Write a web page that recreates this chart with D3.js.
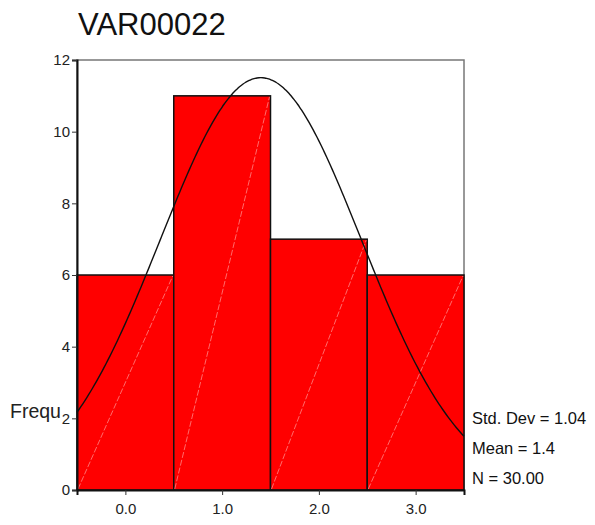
<!DOCTYPE html>
<html><head><meta charset="utf-8">
<script src="https://cdn.jsdelivr.net/npm/d3@7"></script>
<style>body{margin:0;background:#fff}svg{display:block}text{font-family:"Liberation Sans",Arial,sans-serif}</style>
</head><body>
<script>
const binCenters = [0, 1, 2, 3];
const frequencies = [6, 11, 7, 6];
const xTickLabels = ["0.0", "1.0", "2.0", "3.0"];
const yTicks = [0, 2, 4, 6, 8, 10, 12];
const stdDev = 1.04, mean = 1.4, nTotal = 30;
const statLines = ["Std. Dev = 1.04", "Mean = 1.4", "N = 30.00"];

const W = 595, H = 525;
const L = 77, R = 464, T = 60, B = 490;
const svg = d3.select("body").append("svg").attr("width", W).attr("height", H);
const x = d3.scaleLinear().domain([-0.5, 3.5]).range([L, R]);
const y = d3.scaleLinear().domain([0, 12]).range([B, T]);

svg.append("text").attr("x", 78).attr("y", 35).attr("font-size", 31).attr("fill", "#111").text("VAR00022");
svg.append("text").attr("x", 10).attr("y", 418).attr("font-size", 19.5).attr("fill", "#222").text("Frequ");

// frame
svg.append("rect").attr("x", L).attr("y", T).attr("width", R - L).attr("height", B - T)
  .attr("fill", "none").attr("stroke", "#777").attr("stroke-width", 1.5);

// bars
const bars = svg.append("g");
binCenters.forEach((c, i) => {
  const x0 = x(c - 0.5), x1 = x(c + 0.5), yt = y(frequencies[i]);
  bars.append("rect").attr("x", x0).attr("y", yt).attr("width", x1 - x0).attr("height", B - yt)
    .attr("fill", "#ff0000").attr("stroke", "#111").attr("stroke-width", 1.5);
  bars.append("line").attr("x1", x0 + 1).attr("y1", B - 1).attr("x2", x1 - 1).attr("y2", yt + 1)
    .attr("stroke", "#ff9a9a").attr("stroke-width", 0.7).attr("stroke-dasharray", "6,2");
});

// normal curve fitted from the stated mean / std. dev / N (bin width 1)
const pts = d3.range(-0.5, 3.5001, 0.02).map(v => [v, nTotal * 1 / (stdDev * Math.sqrt(2 * Math.PI)) * Math.exp(-0.5 * ((v - mean) / stdDev) ** 2)]);
svg.append("path").datum(pts).attr("fill", "none").attr("stroke", "#111").attr("stroke-width", 1.4)
  .attr("d", d3.line().x(d => x(d[0])).y(d => y(d[1])).curve(d3.curveBasis));

// axes
const yAxis = d3.axisLeft(y).tickValues(yTicks).tickSize(5).tickPadding(2).tickFormat(d3.format("d"));
const gy = svg.append("g").attr("transform", `translate(${L},0)`).call(yAxis);
const xAxis = d3.axisBottom(x).tickValues(binCenters).tickSize(5).tickPadding(8).tickFormat((d, i) => xTickLabels[i]);
const gx = svg.append("g").attr("transform", `translate(0,${B})`).call(xAxis);
[gy, gx].forEach(g => {
  g.select(".domain").attr("stroke", "#111").attr("stroke-width", 2);
  g.selectAll(".tick line").attr("stroke", "#333");
  g.selectAll("text").attr("font-size", 15).attr("fill", "#222").attr("font-family", "Liberation Sans, Arial, sans-serif");
});

// stats
statLines.forEach((s, i) => {
  svg.append("text").attr("x", 472).attr("y", 424 + i * 30).attr("font-size", 16.5).attr("fill", "#111").text(s);
});
</script>
</body></html>
